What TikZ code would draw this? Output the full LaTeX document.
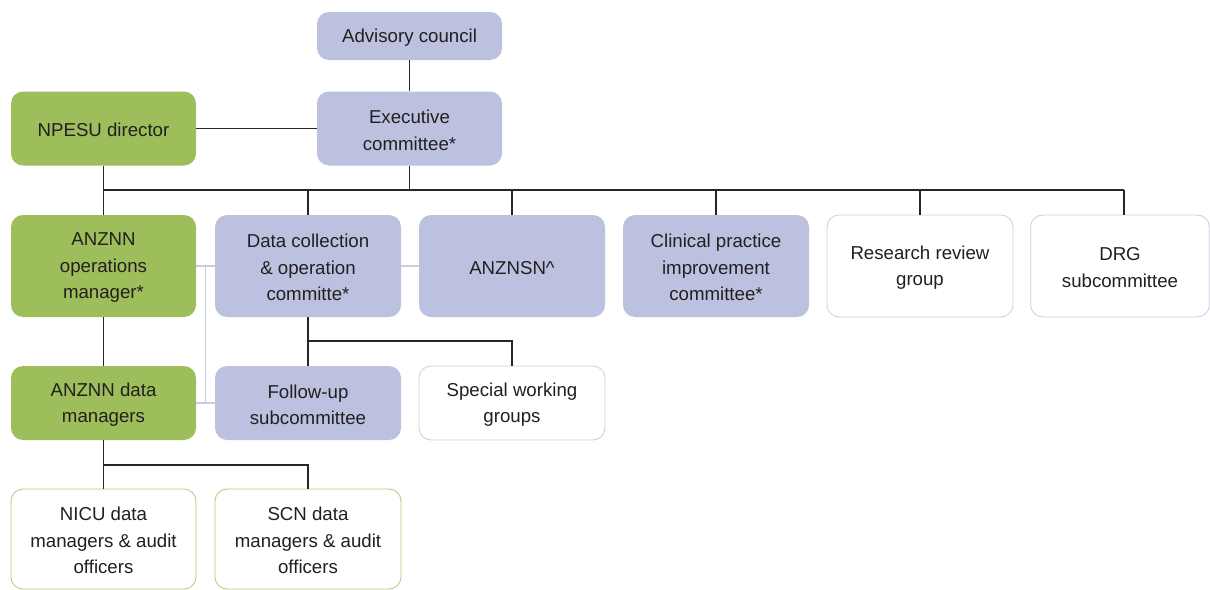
\documentclass[tikz,border=0pt]{standalone}
\usepackage{fontspec}
\setmainfont{Liberation Sans}
\definecolor{grn}{HTML}{9DBE5A}
\definecolor{lav}{HTML}{BCC1DF}
\definecolor{lavline}{HTML}{C9CCE4}
\definecolor{txt}{HTML}{231F20}
\begin{document}
\begin{tikzpicture}[x=0.75pt,y=-0.75pt,
  tx/.style={align=center,text=txt,inner sep=0pt,yshift=-1.3pt,
    font=\fontsize{14}{19.9}\selectfont},
  t/.style={label={[tx]center:#1}},
  box/.style={rectangle,rounded corners=9pt,inner sep=0pt},
  greenbox/.style={box,fill=grn,draw=none},
  lavbox/.style={box,fill=lav,draw=none},
  whitebox/.style={box,fill=white,draw=lavline,line width=0.6pt},
  gwhitebox/.style={box,fill=white,draw=grn!80,line width=0.6pt},
  conn/.style={draw=black!85,line width=0.9pt},
  lconn/.style={draw=lavline,line width=0.9pt}]
\useasboundingbox (0,0) rectangle (1210,589);
% row 0/1
\node[lavbox,minimum width=138.75pt,minimum height=36pt,t={Advisory council}] (adv) at (409.5,36) {};
\node[lavbox,minimum width=138.75pt,minimum height=55.5pt,t={Executive\\committee*}] (exec) at (409.5,128.5) {};
\node[greenbox,minimum width=138.75pt,minimum height=55.5pt,t={NPESU director}] (dir) at (103.5,128.5) {};
% row 2
\node[greenbox,minimum width=138.75pt,minimum height=76.5pt,t={ANZNN\\operations\\manager*}] (ops) at (103.5,266) {};
\node[lavbox,minimum width=139.5pt,minimum height=76.5pt,t={Data collection\\\& operation\\committe*}] (dc) at (308,266) {};
\node[lavbox,minimum width=139.5pt,minimum height=76.5pt,t={ANZNSN\^{}}] (sn) at (512,266) {};
\node[lavbox,minimum width=139.5pt,minimum height=76.5pt,t={Clinical practice\\improvement\\committee*}] (cp) at (716,266) {};
\node[whitebox,minimum width=139.5pt,minimum height=76.5pt,t={Research review\\group}] (rr) at (920,266) {};
\node[whitebox,minimum width=134pt,minimum height=76.5pt,t={DRG\\subcommittee}] (drg) at (1120,266) {};
% row 3
\node[greenbox,minimum width=138.75pt,minimum height=55.5pt,t={ANZNN data\\managers}] (dm) at (103.5,403) {};
\node[lavbox,minimum width=139.5pt,minimum height=55.5pt,t={Follow-up\\subcommittee}] (fu) at (308,403) {};
\node[whitebox,minimum width=139.5pt,minimum height=55.5pt,t={Special working\\groups}] (sw) at (512,403) {};
% row 4
\node[gwhitebox,minimum width=138.75pt,minimum height=75pt,t={NICU data\\managers \& audit\\officers}] (nicu) at (103.5,539) {};
\node[gwhitebox,minimum width=139.5pt,minimum height=75pt,t={SCN data\\managers \& audit\\officers}] (scn) at (308,539) {};
% coordinates
\coordinate (bus) at (409.5,190);
\coordinate (busL) at (103.5,190);
\coordinate (busR) at (1124,190);
\coordinate (b2) at (308,341);
\coordinate (b3) at (103.5,465);
\coordinate (lv) at (205.5,266);
\coordinate (lv2) at (205.5,403);
% connectors
\draw[conn] (adv.south) -- (exec.north);
\draw[conn] (dir.east) -- (exec.west);
\draw[conn] (exec.south) -- (bus);
\draw[conn] (busL) -- (busR);
\draw[conn] (dir.south) -- (ops.north);
\draw[conn] (dc.north|-bus) -- (dc.north);
\draw[conn] (sn.north|-bus) -- (sn.north);
\draw[conn] (cp.north|-bus) -- (cp.north);
\draw[conn] (rr.north|-bus) -- (rr.north);
\draw[conn] (busR) -- (busR|-drg.north);
\draw[conn] (ops.south) -- (dm.north);
\draw[conn] (dc.south) -- (fu.north);
\draw[conn] (b2) -| (sw.north);
\draw[conn] (dm.south) -- (b3) -| (scn.north);
\draw[conn] (b3) -- (nicu.north);
\draw[lconn] (ops.east) -- (dc.west);
\draw[lconn] (dc.east) -- (sn.west);
\draw[lconn] (lv) -- (lv2);
\draw[lconn] (dm.east) -- (fu.west);
\end{tikzpicture}
\end{document}
